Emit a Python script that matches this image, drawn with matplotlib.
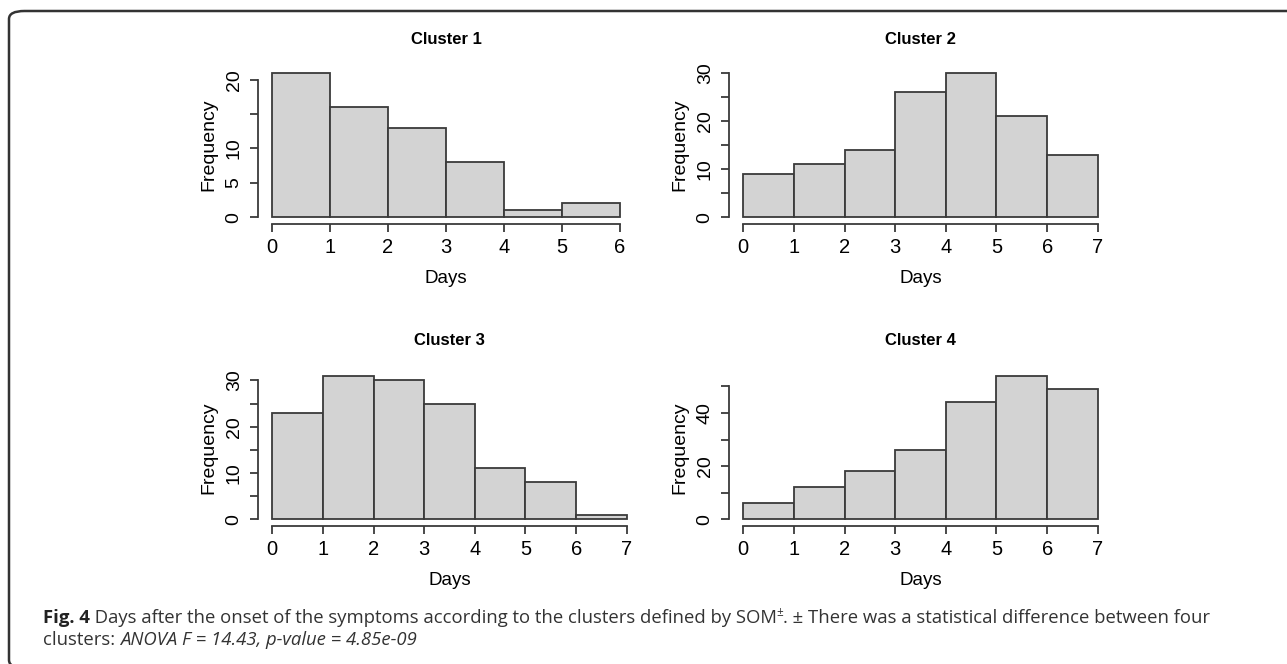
import matplotlib
matplotlib.use("Agg")
import matplotlib.pyplot as plt
from matplotlib.patches import FancyBboxPatch

# dados (frequencias por dia)
titulos = ["Cluster 1", "Cluster 2", "Cluster 3", "Cluster 4"]
bordas = [[0, 1, 2, 3, 4, 5, 6],
          [0, 1, 2, 3, 4, 5, 6, 7],
          [0, 1, 2, 3, 4, 5, 6, 7],
          [0, 1, 2, 3, 4, 5, 6, 7]]
freqs = [[21, 16, 13, 8, 1, 2],
         [9, 11, 14, 26, 30, 21, 13],
         [23, 31, 30, 25, 11, 8, 1],
         [6, 12, 18, 26, 44, 54, 49]]
yticks = [[0, 5, 10, 15, 20],
          [0, 5, 10, 15, 20, 25, 30],
          [0, 5, 10, 15, 20, 25, 30],
          [0, 10, 20, 30, 40, 50]]
ylabels = [["0", "5", "10", "", "20"],
           ["0", "", "10", "", "20", "", "30"],
           ["0", "", "10", "", "20", "", "30"],
           ["0", "", "20", "", "40", ""]]

W, H = 1287, 664
# caixas dos eixos em pixels (x0, y0 topo, x1, y1 base)
caixas = [(258, 67, 634, 223),
          (729, 67, 1112, 223),
          (258, 370, 641, 525),
          (729, 370, 1112, 525)]
pads_titulo = [16.5, 16.5, 18, 18]

fonte = ["Liberation Sans", "DejaVu Sans"]
cor = "#3a3a3a"

fig = plt.figure(figsize=(W / 100, H / 100), dpi=100)

for i in range(4):
    x0, y0, x1, y1 = caixas[i]
    ax = fig.add_axes([x0 / W, 1 - y1 / H, (x1 - x0) / W, (y1 - y0) / H])
    b = bordas[i]
    f = freqs[i]
    larg = [b[k + 1] - b[k] for k in range(len(f))]
    ax.bar(b[:-1], f, width=larg, align="edge", color="#d3d3d3",
           edgecolor=cor, linewidth=1.3)
    xr = b[-1] - b[0]
    yr = max(f)
    ax.set_xlim(b[0] - 0.04 * xr, b[-1] + 0.04 * xr)
    ax.set_ylim(-0.04 * yr, yr * 1.04)
    for s in ["top", "right"]:
        ax.spines[s].set_visible(False)
    ax.spines["left"].set_bounds(yticks[i][0], yticks[i][-1])
    ax.spines["bottom"].set_bounds(b[0], b[-1])
    for s in ["left", "bottom"]:
        ax.spines[s].set_color(cor)
        ax.spines[s].set_linewidth(1.3)
    ax.spines["bottom"].set_position(("outward", 1))
    ax.set_xticks(b)
    ax.set_xticklabels([str(v) for v in b], family=fonte, fontsize=14.5)
    ax.set_yticks(yticks[i])
    ax.set_yticklabels(ylabels[i], rotation=90, va="center",
                       family=fonte, fontsize=14)
    ax.tick_params(length=6, width=1.3, color=cor)
    ax.tick_params(axis="x", pad=4)
    ax.tick_params(axis="y", pad=5)
    ax.set_xlabel("Days", family=fonte, fontsize=13.5, labelpad=9.5)
    ax.set_ylabel("Frequency", family=fonte, fontsize=14, labelpad=6)
    ax.set_title(titulos[i], family=fonte, fontsize=12, fontweight="bold",
                 pad=pads_titulo[i])

# moldura arredondada (so o canto superior esquerdo aparece)
moldura = FancyBboxPatch((9 / W, (H - 668) / H), (1330 - 9) / W, (668 - 11) / H,
                         boxstyle="round,pad=0,rounding_size=0.012",
                         transform=fig.transFigure, facecolor="none",
                         edgecolor="#333333", linewidth=1.8, clip_on=False)
fig.patches.append(moldura)

# legenda
fc = ["Open Sans", "DejaVu Sans"]
tam = 13.3
r = fig.canvas.get_renderer()
t1 = fig.text(43 / W, 1 - 623 / H, "Fig. 4", family=fc, fontsize=tam,
              fontweight="bold", color="#222222", va="baseline")
bb = t1.get_window_extent(r)
t2 = fig.text(bb.x1 / W, 1 - 623 / H,
              " Days after the onset of the symptoms according to the clusters defined by SOM",
              family=fc, fontsize=tam, color="#333333", va="baseline")
bb2 = t2.get_window_extent(r)
t3 = fig.text(bb2.x1 / W, 1 - 616 / H, "\u00b1", family=fc, fontsize=8.5,
              color="#333333", va="baseline")
bb3 = t3.get_window_extent(r)
fig.text(bb3.x1 / W, 1 - 623 / H,
         ". \u00b1 There was a statistical difference between four",
         family=fc, fontsize=tam, color="#333333", va="baseline")
t5 = fig.text(43 / W, 1 - 645 / H, "clusters: ", family=fc, fontsize=tam,
              color="#333333", va="baseline")
bb5 = t5.get_window_extent(r)
fig.text(bb5.x1 / W, 1 - 645 / H, "ANOVA F = 14.43, p-value = 4.85e-09",
         family=fc, fontsize=tam, style="italic", color="#333333",
         va="baseline")

fig.savefig("out.png", dpi=100)
